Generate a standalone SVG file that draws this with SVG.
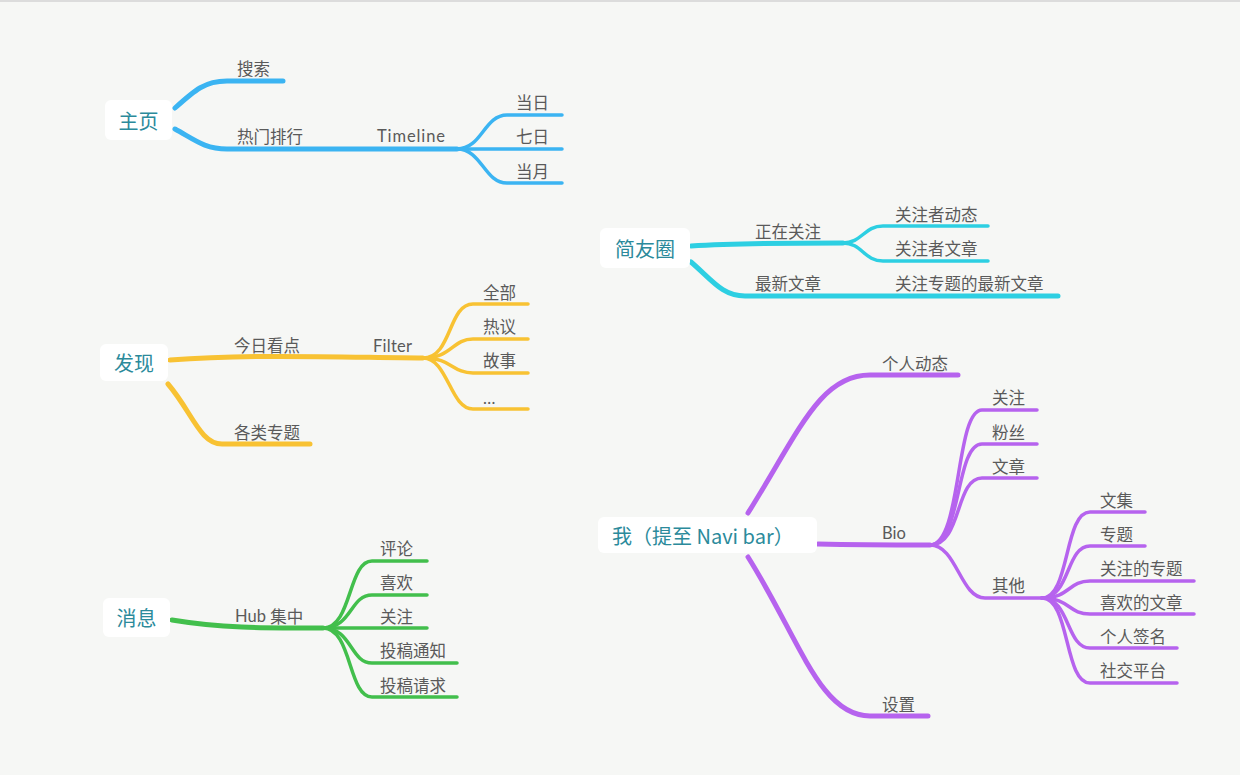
<svg xmlns="http://www.w3.org/2000/svg" width="1240" height="775" viewBox="0 0 1240 775">
<style>
.bg{fill:#f6f7f5}
.box{fill:#ffffff}
.root{font-family:"Noto Sans CJK SC","Noto Sans",sans-serif;font-size:20px;fill:#2b8a9b;dominant-baseline:central}
.lbl{font-family:"Noto Sans CJK SC","Noto Sans",sans-serif;font-size:16.5px;fill:#5a5a5a;dominant-baseline:central}
.lat{font-family:"Lato","Noto Sans",sans-serif;font-size:16.5px;fill:#5a5a5a;dominant-baseline:central}
.ln{fill:none;stroke-linecap:round;stroke-linejoin:round}
.main{stroke-width:5}
.sub{stroke-width:3.5}
.blue{stroke:#3bb4f2}
.cyan{stroke:#2dcfe2}
.yel{stroke:#f8c233}
.grn{stroke:#42bf4c}
.pur{stroke:#b663ee}
</style>
<rect class="bg" x="0" y="0" width="1240" height="775"/>
<rect x="0" y="0" width="1240" height="2" fill="#dcdcdc"/>
<g id="connectors">
<path class="ln main blue" d="M175,108 C195,90 205,81 227,81 L283,81"/>
<path class="ln main blue" d="M175,129 C195,140 205,149 227,149 L457,149"/>
<path class="ln sub blue" d="M457,149 C482,149 484,115 507,115 L562,115"/>
<path class="ln sub blue" d="M457,149 L562,149"/>
<path class="ln sub blue" d="M457,149 C482,149 484,183 507,183 L562,183"/>
<path class="ln main cyan" d="M691,246 C740,243 790,243 843,243"/>
<path class="ln sub cyan" d="M843,243 C862,243 864,226 883,226 L988,226"/>
<path class="ln sub cyan" d="M843,243 C862,243 864,261 883,261 L988,261"/>
<path class="ln main cyan" d="M691,262 C712,280 722,296 745,296 L1058,296"/>
<path class="ln main yel" d="M170,360 C250,354 330,357 423,358"/>
<path class="ln sub yel" d="M423,358 C452,358 448,304 473,304 L528,304"/>
<path class="ln sub yel" d="M423,358 C452,358 452,339 473,339 L528,339"/>
<path class="ln sub yel" d="M423,358 C452,358 452,373 473,373 L528,373"/>
<path class="ln sub yel" d="M423,358 C448,358 450,409 473,409 L528,409"/>
<path class="ln main yel" d="M168,384 C192,412 200,444 222,444 L310,444"/>
<path class="ln main grn" d="M172,620 C220,628 260,628 323,628"/>
<path class="ln sub grn" d="M323,628 C352,628 348,561 372,561 L427,561"/>
<path class="ln sub grn" d="M323,628 C352,628 350,595 372,595 L427,595"/>
<path class="ln sub grn" d="M323,628 L427,628"/>
<path class="ln sub grn" d="M323,628 C352,628 350,663 372,663 L457,663"/>
<path class="ln sub grn" d="M323,628 C352,628 348,697 372,697 L457,697"/>
<path class="ln main pur" d="M748,513 C800,430 820,375 870,375 L958,375"/>
<path class="ln main pur" d="M818,544 C860,545 890,545 930,545"/>
<path class="ln main pur" d="M748,557 C800,640 820,716 870,716 L928,716"/>
<path class="ln sub pur" d="M930,545 C962,545 955,410 982,410 L1037,410"/>
<path class="ln sub pur" d="M930,545 C962,545 955,444 982,444 L1037,444"/>
<path class="ln sub pur" d="M930,545 C962,545 955,478 982,478 L1037,478"/>
<path class="ln sub pur" d="M930,545 C957,545 960,598 985,598 L1042,598"/>
<path class="ln sub pur" d="M1042,598 C1070,598 1064,512 1090,512 L1145,512"/>
<path class="ln sub pur" d="M1042,598 C1070,598 1066,546 1090,546 L1145,546"/>
<path class="ln sub pur" d="M1042,598 C1070,598 1068,581 1090,581 L1194,581"/>
<path class="ln sub pur" d="M1042,598 C1070,598 1068,614 1090,614 L1194,614"/>
<path class="ln sub pur" d="M1042,598 C1070,598 1066,648 1090,648 L1177,648"/>
<path class="ln sub pur" d="M1042,598 C1070,598 1064,683 1090,683 L1177,683"/>
</g>
<g id="n-zhuye"><rect class="box" x="105" y="100" width="67" height="40" rx="6"/><text class="root" x="138.5" y="120" text-anchor="middle">主页</text></g>
<g id="n-sousuo"><text class="lbl" x="237" y="68">搜索</text></g>
<g id="n-remen"><text class="lbl" x="237" y="136">热门排行</text></g>
<g id="n-timeline"><text class="lat" x="377" y="136" textLength="68">Timeline</text></g>
<g id="n-dangri"><text class="lbl" x="516" y="102">当日</text></g>
<g id="n-qiri"><text class="lbl" x="516" y="136">七日</text></g>
<g id="n-dangyue"><text class="lbl" x="516" y="171">当月</text></g>
<g id="n-jianyouquan"><rect class="box" x="600" y="228" width="90" height="40" rx="6"/><text class="root" x="645" y="248" text-anchor="middle">简友圈</text></g>
<g id="n-zhengzai"><text class="lbl" x="755" y="231">正在关注</text></g>
<g id="n-gzzdt"><text class="lbl" x="895" y="214">关注者动态</text></g>
<g id="n-gzzwz"><text class="lbl" x="895" y="248">关注者文章</text></g>
<g id="n-zuixin"><text class="lbl" x="755" y="283">最新文章</text></g>
<g id="n-gzztzx"><text class="lbl" x="895" y="283">关注专题的最新文章</text></g>
<g id="n-faxian"><rect class="box" x="100" y="344" width="68" height="37" rx="6"/><text class="root" x="134" y="362" text-anchor="middle">发现</text></g>
<g id="n-jinri"><text class="lbl" x="234" y="345">今日看点</text></g>
<g id="n-filter"><text class="lat" x="373" y="346" textLength="39">Filter</text></g>
<g id="n-quanbu"><text class="lbl" x="483" y="292">全部</text></g>
<g id="n-reyi"><text class="lbl" x="483" y="326">热议</text></g>
<g id="n-gushi"><text class="lbl" x="483" y="360">故事</text></g>
<g id="n-more"><text class="lat" x="483" y="398">…</text></g>
<g id="n-gelei"><text class="lbl" x="234" y="432">各类专题</text></g>
<g id="n-xiaoxi"><rect class="box" x="103" y="598" width="67" height="39" rx="6"/><text class="root" x="136.5" y="617" text-anchor="middle">消息</text></g>
<g id="n-hub"><text class="lbl" x="235" y="616"><tspan font-family="Lato, 'Noto Sans', sans-serif">Hub </tspan>集中</text></g>
<g id="n-pinglun"><text class="lbl" x="380" y="548">评论</text></g>
<g id="n-xihuan"><text class="lbl" x="380" y="582">喜欢</text></g>
<g id="n-guanzhu1"><text class="lbl" x="380" y="616">关注</text></g>
<g id="n-tgtz"><text class="lbl" x="380" y="650">投稿通知</text></g>
<g id="n-tgqq"><text class="lbl" x="380" y="685">投稿请求</text></g>
<g id="n-wo"><rect class="box" x="598" y="517" width="219" height="36" rx="6"/><text class="root" x="612" y="535">我（提至 Navi bar）</text></g>
<g id="n-grdt"><text class="lbl" x="882" y="363">个人动态</text></g>
<g id="n-bio"><text class="lat" x="882" y="533">Bio</text></g>
<g id="n-shezhi"><text class="lbl" x="882" y="704">设置</text></g>
<g id="n-guanzhu2"><text class="lbl" x="992" y="397">关注</text></g>
<g id="n-fensi"><text class="lbl" x="992" y="432">粉丝</text></g>
<g id="n-wenzhang"><text class="lbl" x="992" y="466">文章</text></g>
<g id="n-qita"><text class="lbl" x="992" y="585">其他</text></g>
<g id="n-wenji"><text class="lbl" x="1100" y="500">文集</text></g>
<g id="n-zhuanti"><text class="lbl" x="1100" y="534">专题</text></g>
<g id="n-gzdzt"><text class="lbl" x="1100" y="568">关注的专题</text></g>
<g id="n-xhdwz"><text class="lbl" x="1100" y="602">喜欢的文章</text></g>
<g id="n-grqm"><text class="lbl" x="1100" y="636">个人签名</text></g>
<g id="n-shjpt"><text class="lbl" x="1100" y="670">社交平台</text></g>
</svg>
